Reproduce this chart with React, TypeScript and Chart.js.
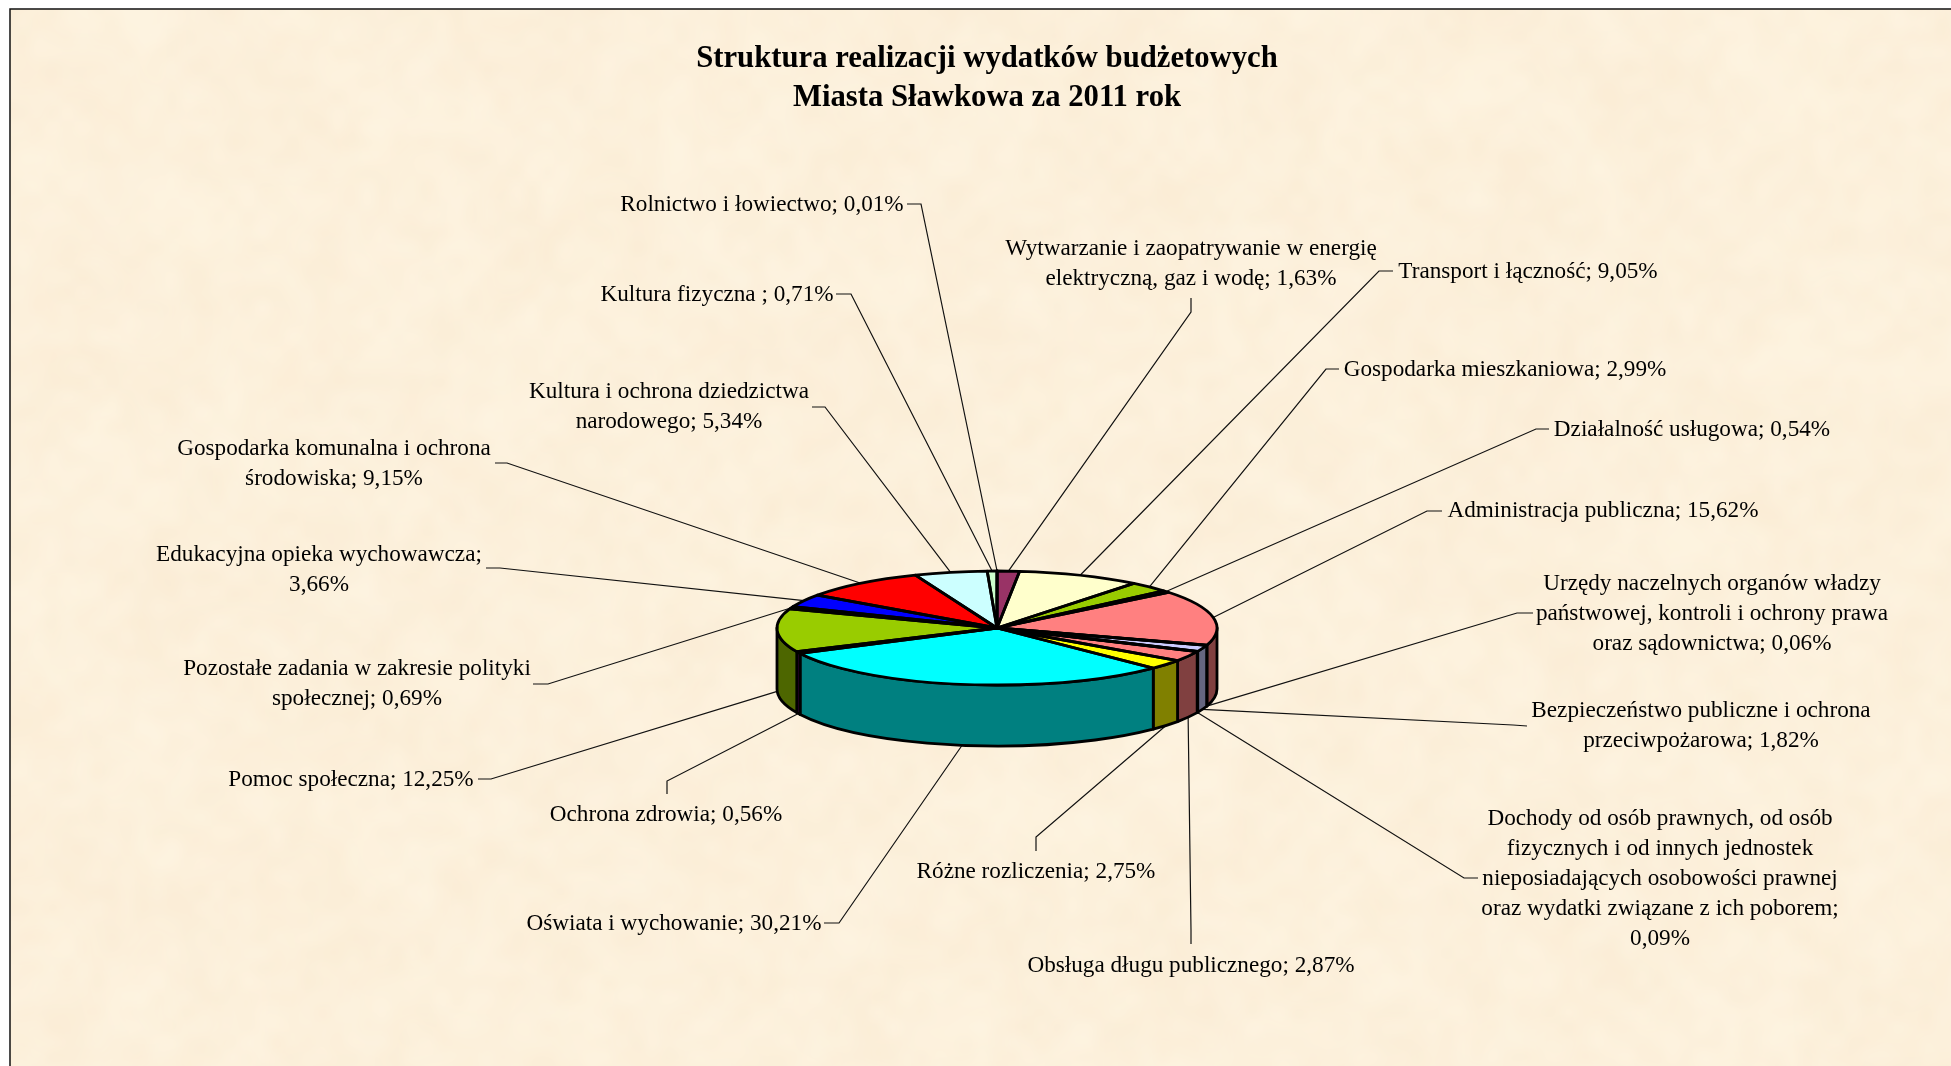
import React, { useEffect, useRef } from "react";
import { Chart, registerables } from "chart.js";

Chart.register(...registerables);

const W = 1951;
const H = 1066;

const categories = [
  "Rolnictwo i łowiectwo",
  "Wytwarzanie i zaopatrywanie w energię elektryczną, gaz i wodę",
  "Transport i łączność",
  "Gospodarka mieszkaniowa",
  "Działalność usługowa",
  "Administracja publiczna",
  "Urzędy naczelnych organów władzy państwowej, kontroli i ochrony prawa oraz sądownictwa",
  "Bezpieczeństwo publiczne i ochrona przeciwpożarowa",
  "Dochody od osób prawnych, od osób fizycznych i od innych jednostek nieposiadających osobowości prawnej oraz wydatki związane z ich poborem",
  "Obsługa długu publicznego",
  "Różne rozliczenia",
  "Oświata i wychowanie",
  "Ochrona zdrowia",
  "Pomoc społeczna",
  "Pozostałe zadania w zakresie polityki społecznej",
  "Edukacyjna opieka wychowawcza",
  "Gospodarka komunalna i ochrona środowiska",
  "Kultura i ochrona dziedzictwa narodowego",
  "Kultura fizyczna",
];

const values = [0.01, 1.63, 9.05, 2.99, 0.54, 15.62, 0.06, 1.82, 0.09, 2.87, 2.75, 30.21, 0.56, 12.25, 0.69, 3.66, 9.15, 5.34, 0.71];

const topColors = ["#9999FF", "#993366", "#FFFFCC", "#99CC00", "#660066", "#FF8080", "#0066CC", "#CCCCFF", "#000080", "#FF8080", "#FFFF00", "#00FFFF", "#800080", "#99CC00", "#333300", "#0000FF", "#FF0000", "#CCFFFF", "#CCFFCC"];
const wallColors = ["#4D4D80", "#4D1A33", "#808066", "#4D6600", "#330033", "#804040", "#003366", "#666680", "#000040", "#804040", "#808000", "#008080", "#400040", "#4D6600", "#1A1A00", "#000080", "#800000", "#668080", "#668066"];

const labelLines = [
  ["Rolnictwo i łowiectwo; 0,01%"],
  ["Wytwarzanie i zaopatrywanie w energię", "elektryczną, gaz i wodę; 1,63%"],
  ["Transport i łączność; 9,05%"],
  ["Gospodarka mieszkaniowa; 2,99%"],
  ["Działalność usługowa; 0,54%"],
  ["Administracja publiczna; 15,62%"],
  ["Urzędy naczelnych organów władzy", "państwowej, kontroli i ochrony prawa", "oraz sądownictwa; 0,06%"],
  ["Bezpieczeństwo publiczne i ochrona", "przeciwpożarowa; 1,82%"],
  ["Dochody od osób prawnych, od osób", "fizycznych i od innych jednostek", "nieposiadających osobowości prawnej", "oraz wydatki związane z ich poborem;", "0,09%"],
  ["Obsługa długu publicznego; 2,87%"],
  ["Różne rozliczenia; 2,75%"],
  ["Oświata i wychowanie; 30,21%"],
  ["Ochrona zdrowia; 0,56%"],
  ["Pomoc społeczna; 12,25%"],
  ["Pozostałe zadania w zakresie polityki", "społecznej; 0,69%"],
  ["Edukacyjna opieka wychowawcza;", "3,66%"],
  ["Gospodarka komunalna i ochrona", "środowiska; 9,15%"],
  ["Kultura i ochrona dziedzictwa", "narodowego; 5,34%"],
  ["Kultura fizyczna ; 0,71%"],
];

// label anchor: centre x, centre y of the first line
const labelAnchors = [
  [762, 205], [1191, 249], [1528, 272], [1505, 370], [1692, 430], [1603, 511], [1712, 584], [1701, 711], [1660, 819],
  [1191, 966], [1036, 872], [674, 924], [666, 815], [351, 780], [357, 669], [319, 555], [334, 449], [669, 392], [717, 295],
];

// leader start and elbow; the third point comes from the slice itself
const leaderStarts = [
  [907, 204, 921, 204], [1191, 298, 1191, 312], [1393, 271, 1379, 271], [1339, 369, 1326, 369], [1549, 429, 1536, 429],
  [1442, 511, 1427, 511], [1533, 613, 1517, 613], [1527, 726, 1513, 725], [1478, 878, 1464, 878], [1191, 944, 1191, 930],
  [1036, 851, 1036, 837], [824, 923, 839, 923], [667, 794, 667, 781], [478, 779, 491, 779], [533, 684, 548, 684],
  [486, 568, 500, 568], [495, 463, 507, 463], [812, 407, 825, 407], [836, 294, 851, 294],
];

const titleLines = ["Struktura realizacji wydatków budżetowych", "Miasta Sławkowa za 2011 rok"];

const CX = 997;
const CY = 628;
const RX = 220;
const RY = 57;
const DEPTH = 61;
const SQUASH = RY / RX;
const SERIF = '"Liberation Serif", "Times New Roman", serif';

function hash(x: number, y: number) {
  const s = Math.sin(x * 127.1 + y * 311.7) * 43758.5453;
  return s - Math.floor(s);
}

function paintPaper(ctx: CanvasRenderingContext2D) {
  ctx.fillStyle = "#ffffff";
  ctx.fillRect(0, 0, W, H);
  const layer = (cell: number, amp: number, seed: number) => {
    const c = document.createElement("canvas");
    c.width = Math.ceil(W / cell) + 1;
    c.height = Math.ceil(H / cell) + 1;
    const g = c.getContext("2d")!;
    for (let y = 0; y < c.height; y++) {
      for (let x = 0; x < c.width; x++) {
        const n = hash(x + seed, y - seed) - 0.5;
        const v = n * amp;
        g.fillStyle = `rgb(${252 + v * 0.4},${240 + v},${219 + v * 1.5})`;
        g.fillRect(x, y, 1, 1);
      }
    }
    return c;
  };
  ctx.save();
  ctx.beginPath();
  ctx.rect(10, 9, W, H);
  ctx.clip();
  ctx.imageSmoothingEnabled = true;
  ctx.imageSmoothingQuality = "high";
  ctx.drawImage(layer(44, 7, 3), 0, 0, Math.ceil(W / 44 + 1) * 44, Math.ceil(H / 44 + 1) * 44);
  ctx.globalAlpha = 0.45;
  ctx.drawImage(layer(15, 9, 19), 0, 0, Math.ceil(W / 15 + 1) * 15, Math.ceil(H / 15 + 1) * 15);
  ctx.restore();
  ctx.strokeStyle = "#111111";
  ctx.lineWidth = 1.5;
  ctx.beginPath();
  ctx.moveTo(10, H);
  ctx.lineTo(10, 9);
  ctx.lineTo(W, 9);
  ctx.stroke();
}

function pieAnchor(a: number) {
  const s = Math.sin(a);
  return [CX + RX * Math.cos(a), CY + RY * s + (s > 0 ? DEPTH : 0)];
}

const pie3d = {
  id: "pie3d",
  beforeDraw(chart: Chart) {
    paintPaper(chart.ctx);
  },
  beforeDatasetsDraw(chart: Chart) {
    const ctx = chart.ctx;
    const arcs = chart.getDatasetMeta(0).data as any[];
    const cx = arcs[0].x;
    const cy = arcs[0].y;
    const rx = arcs[0].outerRadius;
    const ry = rx * SQUASH;

    // leaders
    ctx.strokeStyle = "#111111";
    ctx.lineWidth = 1.2;
    arcs.forEach((arc, i) => {
      const [x0, y0, x1, y1] = leaderStarts[i];
      const [x2, y2] = pieAnchor((arc.startAngle + arc.endAngle) / 2);
      ctx.beginPath();
      ctx.moveTo(x0, y0);
      ctx.lineTo(x1, y1);
      ctx.lineTo(x2, y2);
      ctx.stroke();
    });

    // walls of the front half
    ctx.lineWidth = 2.8;
    ctx.strokeStyle = "#000000";
    ctx.lineJoin = "round";
    arcs.forEach((arc, i) => {
      const s = Math.max(arc.startAngle, 0);
      const e = Math.min(arc.endAngle, Math.PI);
      if (e <= s) return;
      ctx.beginPath();
      ctx.ellipse(cx, cy, rx, ry, 0, s, e);
      ctx.ellipse(cx, cy + DEPTH, rx, ry, 0, e, s, true);
      ctx.closePath();
      ctx.fillStyle = wallColors[i];
      ctx.fill();
      ctx.stroke();
    });

    // the library draws the slices into this squashed space
    ctx.save();
    ctx.translate(0, cy);
    ctx.scale(1, SQUASH);
    ctx.translate(0, -cy);
  },
  afterDatasetsDraw(chart: Chart) {
    const ctx = chart.ctx;
    ctx.restore();
    const arcs = chart.getDatasetMeta(0).data as any[];
    const cx = arcs[0].x;
    const cy = arcs[0].y;
    const rx = arcs[0].outerRadius;
    const ry = rx * SQUASH;
    ctx.lineWidth = 2.8;
    ctx.strokeStyle = "#000000";
    ctx.lineJoin = "round";
    arcs.forEach((arc) => {
      ctx.beginPath();
      ctx.moveTo(cx, cy);
      ctx.ellipse(cx, cy, rx, ry, 0, arc.startAngle, arc.endAngle);
      ctx.closePath();
      ctx.stroke();
    });

    // texts
    ctx.fillStyle = "#000000";
    ctx.textAlign = "center";
    ctx.textBaseline = "middle";
    ctx.font = `23.2px ${SERIF}`;
    labelLines.forEach((lines, i) => {
      const [x, y] = labelAnchors[i];
      lines.forEach((t, k) => ctx.fillText(t, x, y + k * 30));
    });
    ctx.font = `bold 30.7px ${SERIF}`;
    titleLines.forEach((t, k) => ctx.fillText(t, 987, 59 + k * 39));
  },
};

export default function App() {
  const ref = useRef<HTMLCanvasElement>(null);
  useEffect(() => {
    const chart = new Chart(ref.current!, {
      type: "pie",
      data: {
        labels: categories,
        datasets: [{ data: values, backgroundColor: topColors, borderWidth: 0, clip: false }],
      },
      options: {
        animation: false,
        responsive: false,
        devicePixelRatio: 1,
        rotation: 0,
        layout: { padding: { left: CX - RX, right: W - CX - RX, top: CY - RX, bottom: H - CY - RX } },
        plugins: { legend: { display: false }, tooltip: { enabled: false }, title: { display: false } },
      },
      plugins: [pie3d],
    } as any);
    return () => chart.destroy();
  }, []);
  return (
    <div style={{ position: "fixed", left: 0, top: 0, width: W, height: H, overflow: "hidden" }}>
      <canvas ref={ref} width={W} height={H} style={{ display: "block" }} />
    </div>
  );
}
